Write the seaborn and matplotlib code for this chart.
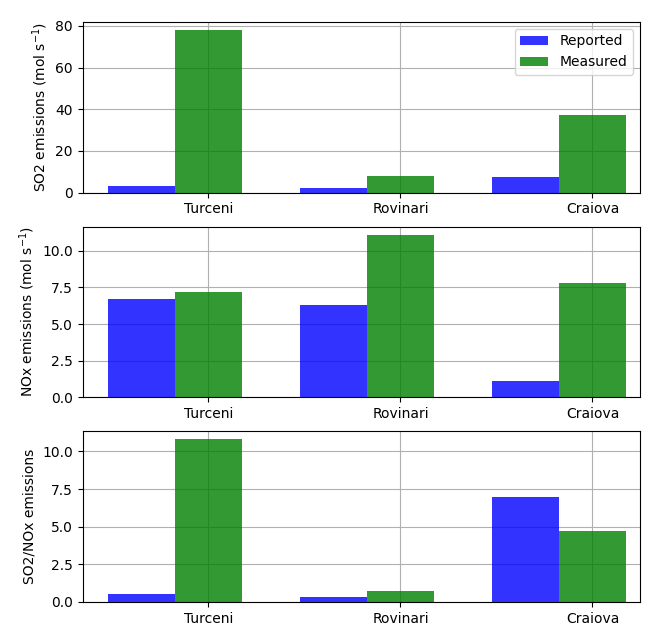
import seaborn as sns
import pandas as pd
import matplotlib.pyplot as plt

plants = ['Turceni', 'Rovinari', 'Craiova']
so2_reported = [3.0, 2.0, 7.5]
so2_measured = [78.0, 8.0, 37.0]
nox_reported = [6.7, 6.3, 1.1]
nox_measured = [7.2, 11.1, 7.8]
ratio_reported = [0.5, 0.3, 7.0]
ratio_measured = [10.8, 0.7, 4.7]

panels = [
    (so2_reported, so2_measured, 'SO2 emissions (mol s$^{-1}$)', [0, 20, 40, 60, 80]),
    (nox_reported, nox_measured, 'NOx emissions (mol s$^{-1}$)', [0, 2.5, 5, 7.5, 10]),
    (ratio_reported, ratio_measured, 'SO2/NOx emissions', [0, 2.5, 5, 7.5, 10]),
]

fig, axes = plt.subplots(3, 1, figsize=(6.46, 6.27), dpi=100)
palette = {'Reported': (0, 0, 1, 0.8), 'Measured': (0, 0.5, 0, 0.8)}

for i, (ax, (rep, mea, ylab, yt)) in enumerate(zip(axes, panels)):
    df = pd.DataFrame({
        'plant': plants * 2,
        'value': rep + mea,
        'kind': ['Reported'] * 3 + ['Measured'] * 3,
    })
    sns.barplot(data=df, x='plant', y='value', hue='kind', palette=palette,
                width=0.7, gap=0, saturation=1, ax=ax, zorder=2)
    # ticks sit at the centre of the measured bar
    ax.set_xticks([k + 0.175 for k in range(len(plants))])
    ax.set_xticklabels(plants)
    ax.set_xlim(-0.48, 2.42)
    ax.set_xlabel('')
    ax.set_ylabel(ylab)
    ax.set_yticks(yt)
    if i > 0:
        ax.set_yticklabels([f'{v:.1f}' for v in yt])
    ax.grid(True, color='#b0b0b0', zorder=0)
    ax.set_axisbelow(True)
    if i == 0:
        ax.legend(loc='upper right', title=None)
    else:
        ax.get_legend().remove()

fig.subplots_adjust(left=0.128, right=0.99, top=0.965, bottom=0.04, hspace=0.2)
fig.savefig('out.png')
